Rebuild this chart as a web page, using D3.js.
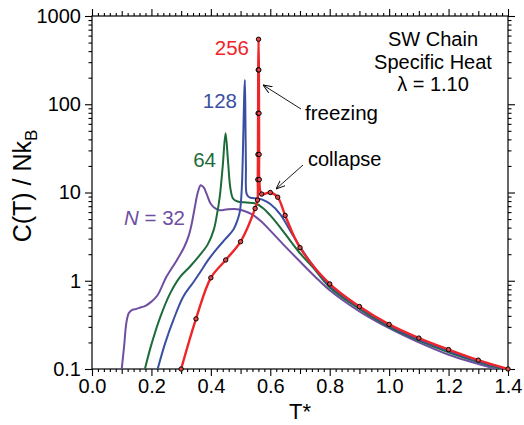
<!DOCTYPE html>
<html><head><meta charset="utf-8">
<script src="https://cdn.jsdelivr.net/npm/d3@7"></script>
<style>
body{margin:0;background:#fff}
text{font-family:"Liberation Sans",Arial,Helvetica,sans-serif}
</style>
</head><body>
<svg id="chart" width="524" height="425"></svg>
<script>
// ---- data ----
const xTickLabels = [0, 0.2, 0.4, 0.6, 0.8, 1.0, 1.2, 1.4];
const yTickLabels = [0.1, 1, 10, 100, 1000];

const tN32 = [0.100,0.108,0.116,0.124,0.134,0.150,0.165,0.180,0.200,0.220,0.250,0.285,0.310,0.325,0.336,0.346,0.356,0.366,0.376,0.386,0.400,0.415,0.430,0.450,0.480,0.510,0.540,0.570,0.600,0.650,0.700,0.750,0.800,0.900,1.000,1.100,1.200,1.300,1.400];
const cN32 = [0.100,0.180,0.340,0.430,0.465,0.480,0.500,0.520,0.580,0.680,1.100,1.700,2.400,3.200,4.500,6.800,10.00,12.10,11.40,9.600,7.400,6.600,6.300,6.400,6.500,6.200,5.600,4.700,3.700,2.450,1.650,1.120,0.780,0.450,0.290,0.200,0.145,0.114,0.092];

const tN64 = [0.178,0.200,0.230,0.263,0.296,0.330,0.360,0.390,0.410,0.420,0.430,0.440,0.4495,0.458,0.466,0.475,0.490,0.520,0.550,0.577,0.600,0.622,0.650,0.700,0.745,0.800,0.900,1.000,1.100,1.200,1.300,1.400];
const cN64 = [0.100,0.190,0.390,0.720,1.100,1.450,1.900,2.600,3.800,5.500,9.000,20.00,47.00,22.00,11.00,8.500,7.900,7.700,7.500,6.600,5.500,4.500,3.400,2.050,1.400,0.840,0.480,0.300,0.210,0.155,0.120,0.096];

const tN128 = [0.221,0.246,0.274,0.307,0.340,0.364,0.390,0.420,0.450,0.476,0.490,0.498,0.504,0.508,0.512,0.5145,0.5165,0.518,0.521,0.530,0.560,0.577,0.600,0.633,0.678,0.734,0.800,0.900,1.000,1.100,1.200,1.300,1.400];
const cN128 = [0.100,0.195,0.360,0.660,0.950,1.250,1.700,2.300,3.000,3.800,4.900,6.200,11.00,30.00,120.0,188.0,60.00,20.00,9.500,8.800,8.500,8.200,7.400,5.700,3.200,1.650,0.880,0.500,0.310,0.215,0.160,0.122,0.098];

const tN256 = [0.300,0.350,0.400,0.450,0.500,0.549,0.557,0.558,0.5585,0.559,0.5595,0.5605,0.5615,0.562,0.5625,0.563,0.571,0.600,0.625,0.650,0.700,0.800,0.900,1.000,1.100,1.200,1.300,1.400];
const cN256 = [0.100,0.370,1.080,1.720,2.770,6.600,8.200,14.00,27.00,79.00,245.0,545.0,245.0,79.00,27.00,14.00,9.600,10.00,8.850,5.500,2.370,0.920,0.510,0.320,0.224,0.166,0.126,0.100];

const seriesNames = ["N = 32", "64", "128", "256"];
const seriesColors = ["#6f4ea1", "#1d6b3a", "#3a4fa2", "#ee2529"];

// ---- layout ----
const svg = d3.select("#chart");
const L = 92, R = 508, T = 16, B = 369;
const x = d3.scaleLinear().domain([0, 1.4]).range([L, R]);
const y = d3.scaleLog().domain([0.1, 1000]).range([B, T]);

svg.append("defs").append("clipPath").attr("id","clip")
  .append("rect").attr("x",L).attr("y",T).attr("width",R-L).attr("height",B-T);

// ---- ticks ----
const minorX = d3.range(0, 71).map(i => i*0.02).filter(v => Math.round(v*100) % 10 !== 0);
const midX = d3.range(0, 15).map(i => i*0.1).filter(v => Math.round(v*10) % 2 !== 0);
const minorY = [];
[0.1,1,10,100].forEach(d => { for (let k=2;k<=9;k++) minorY.push(d*k); });

function clean(g){ g.select(".domain").remove(); g.selectAll("line").attr("stroke","#000").attr("stroke-width",1.1); }
const fs = "20px";

// bottom
svg.append("g").attr("transform",`translate(0,${B})`)
  .call(d3.axisBottom(x).tickValues(xTickLabels).tickSize(7).tickPadding(3).tickFormat(d3.format(".1f")))
  .call(clean).selectAll("text").attr("font-size",fs).attr("fill","#000");
svg.append("g").attr("transform",`translate(0,${B})`)
  .call(d3.axisBottom(x).tickValues(midX).tickSize(5).tickFormat("")).call(clean);
svg.append("g").attr("transform",`translate(0,${B})`)
  .call(d3.axisBottom(x).tickValues(minorX).tickSize(3).tickFormat("")).call(clean);
// top
svg.append("g").attr("transform",`translate(0,${T})`)
  .call(d3.axisTop(x).tickValues(xTickLabels).tickSize(7).tickFormat("")).call(clean);
svg.append("g").attr("transform",`translate(0,${T})`)
  .call(d3.axisTop(x).tickValues(midX).tickSize(5).tickFormat("")).call(clean);
svg.append("g").attr("transform",`translate(0,${T})`)
  .call(d3.axisTop(x).tickValues(minorX).tickSize(3).tickFormat("")).call(clean);
// left
svg.append("g").attr("transform",`translate(${L},0)`)
  .call(d3.axisLeft(y).tickValues(yTickLabels).tickSize(7).tickPadding(4).tickFormat(d => d < 1 ? "0.1" : String(d)))
  .call(clean).selectAll("text").attr("font-size",fs).attr("fill","#000");
svg.append("g").attr("transform",`translate(${L},0)`)
  .call(d3.axisLeft(y).tickValues(minorY).tickSize(3.5).tickFormat("")).call(clean);
// right
svg.append("g").attr("transform",`translate(${R},0)`)
  .call(d3.axisRight(y).tickValues(yTickLabels).tickSize(7).tickFormat("")).call(clean);
svg.append("g").attr("transform",`translate(${R},0)`)
  .call(d3.axisRight(y).tickValues(minorY).tickSize(3.5).tickFormat("")).call(clean);

svg.append("rect").attr("x",L).attr("y",T).attr("width",R-L).attr("height",B-T)
  .attr("fill","none").attr("stroke","#000").attr("stroke-width",1.2);

// ---- curves ----
const line = d3.line().x(d => x(d[0])).y(d => y(d[1])).curve(d3.curveCatmullRom.alpha(0.5));
const series = [
  d3.zip(tN32, cN32), d3.zip(tN64, cN64), d3.zip(tN128, cN128), d3.zip(tN256, cN256)
];
const gc = svg.append("g").attr("clip-path","url(#clip)");
series.forEach((s,i) => {
  gc.append("path").datum(s).attr("d", line).attr("fill","none")
    .attr("stroke", seriesColors[i]).attr("stroke-width", i===3 ? 2.4 : 2)
    .attr("stroke-linejoin","round");
});
svg.append("g").selectAll("circle").data(series[3]).join("circle")
  .attr("cx", d => x(d[0])).attr("cy", d => y(d[1])).attr("r", 2.2)
  .attr("fill", "#e8474a").attr("stroke", "#000").attr("stroke-width", 1);

// ---- series labels ----
const lab = [
  {t:"32", x:185, y:225, i:0},
  {t:"64", x:216, y:167, i:1},
  {t:"128", x:237, y:108, i:2},
  {t:"256", x:249, y:55, i:3}
];
lab.forEach(l => {
  const tx = svg.append("text").attr("x", l.x).attr("y", l.y).attr("text-anchor","end")
    .attr("font-size", "20.5px").attr("fill", seriesColors[l.i]);
  if (l.i === 0) {
    tx.append("tspan").attr("font-style","italic").text("N");
    tx.append("tspan").text(" = " + l.t);
  } else tx.text(l.t);
});

// ---- annotations ----
const defs = svg.select("defs");
defs.append("marker").attr("id","arr").attr("viewBox","0 0 10 10").attr("refX",10).attr("refY",5)
  .attr("markerWidth",9).attr("markerHeight",9).attr("orient","auto-start-reverse")
  .attr("markerUnits","userSpaceOnUse")
  .append("path").attr("d","M0,1 L10,5 L0,9").attr("fill","none").attr("stroke","#000").attr("stroke-width",1);
svg.append("line").attr("x1",301).attr("y1",109).attr("x2",263).attr("y2",85)
  .attr("stroke","#000").attr("stroke-width",0.9).attr("marker-end","url(#arr)");
svg.append("line").attr("x1",303).attr("y1",165).attr("x2",276).attr("y2",189)
  .attr("stroke","#000").attr("stroke-width",0.9).attr("marker-end","url(#arr)");
svg.append("text").attr("x",305).attr("y",120).attr("font-size","20.5px").text("freezing");
svg.append("text").attr("x",308).attr("y",166).attr("font-size","20px").text("collapse");

const title = ["SW Chain", "Specific Heat", "\u03bb = 1.10"];
svg.append("g").selectAll("text").data(title).join("text")
  .attr("x", 433).attr("y", (d,i) => 46 + i*22.7).attr("text-anchor","middle")
  .attr("font-size","20px").text(d => d);

// ---- axis titles ----
svg.append("text").attr("x", 300).attr("y", 419).attr("text-anchor","middle")
  .attr("font-size","22px").text("T*");
const yl = svg.append("text").attr("transform","translate(31,186) rotate(-90)")
  .attr("text-anchor","middle").attr("font-size","25px");
yl.append("tspan").text("C(T) / Nk");
yl.append("tspan").attr("font-size","17px").attr("dy",6).text("B");
</script>
</body></html>
